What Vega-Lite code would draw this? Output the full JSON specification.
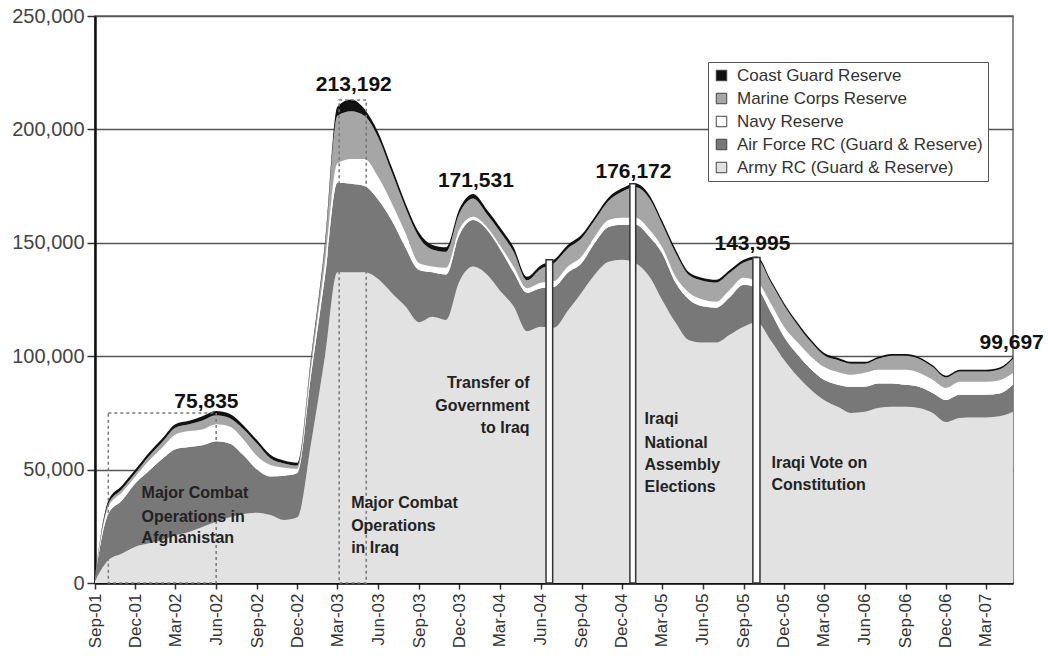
{
  "$schema": "https://vega.github.io/schema/vega-lite/v6.json",
  "width": 918,
  "height": 567,
  "autosize": {"type": "none"},
  "padding": {"left": 95, "top": 16, "right": 35, "bottom": 73},
  "background": "#ffffff",
  "config": {
    "font": "Liberation Sans",
    "view": {"stroke": "#666666", "strokeWidth": 1.5}
  },
  "datasets": {
    "main": [
      {"d": "2001-09-01", "army": 1000, "af": 1500, "navy": 300, "usmc": 100, "cg": 300},
      {"d": "2001-10-01", "army": 10000, "af": 20500, "navy": 3000, "usmc": 1300, "cg": 1500},
      {"d": "2001-11-01", "army": 13000, "af": 23500, "navy": 3500, "usmc": 1500, "cg": 1500},
      {"d": "2001-12-01", "army": 16000, "af": 28000, "navy": 3000, "usmc": 1500, "cg": 1500},
      {"d": "2002-01-01", "army": 17500, "af": 32000, "navy": 4500, "usmc": 2000, "cg": 1500},
      {"d": "2002-02-01", "army": 19000, "af": 36000, "navy": 5000, "usmc": 2500, "cg": 1500},
      {"d": "2002-03-01", "army": 21000, "af": 38000, "navy": 6500, "usmc": 3000, "cg": 1500},
      {"d": "2002-04-01", "army": 22500, "af": 37500, "navy": 7000, "usmc": 3000, "cg": 1500},
      {"d": "2002-05-01", "army": 24700, "af": 36000, "navy": 7000, "usmc": 4000, "cg": 1800},
      {"d": "2002-06-01", "army": 27000, "af": 35500, "navy": 7500, "usmc": 4000, "cg": 1835},
      {"d": "2002-07-01", "army": 29000, "af": 32500, "navy": 7500, "usmc": 3800, "cg": 1800},
      {"d": "2002-08-01", "army": 30400, "af": 26000, "navy": 7000, "usmc": 4500, "cg": 1700},
      {"d": "2002-09-01", "army": 31000, "af": 19000, "navy": 6000, "usmc": 5500, "cg": 1500},
      {"d": "2002-10-01", "army": 30000, "af": 17000, "navy": 5000, "usmc": 3000, "cg": 1500},
      {"d": "2002-11-01", "army": 27800, "af": 19500, "navy": 3500, "usmc": 1900, "cg": 1300},
      {"d": "2002-12-01", "army": 29000, "af": 19500, "navy": 1800, "usmc": 1500, "cg": 1200},
      {"d": "2003-01-01", "army": 62000, "af": 30000, "navy": 3500, "usmc": 3000, "cg": 1500},
      {"d": "2003-02-01", "army": 100000, "af": 35000, "navy": 6000, "usmc": 7000, "cg": 2000},
      {"d": "2003-03-01", "army": 137000, "af": 39500, "navy": 8500, "usmc": 21000, "cg": 4000},
      {"d": "2003-04-01", "army": 137000, "af": 39000, "navy": 11000, "usmc": 21000, "cg": 5192},
      {"d": "2003-05-01", "army": 137000, "af": 38000, "navy": 12000, "usmc": 19000, "cg": 3000},
      {"d": "2003-06-01", "army": 134000, "af": 35000, "navy": 10000, "usmc": 17400, "cg": 2200},
      {"d": "2003-07-01", "army": 128000, "af": 32000, "navy": 7700, "usmc": 13700, "cg": 2200},
      {"d": "2003-08-01", "army": 122000, "af": 26000, "navy": 6500, "usmc": 11200, "cg": 2000},
      {"d": "2003-09-01", "army": 115000, "af": 23000, "navy": 3000, "usmc": 11500, "cg": 2000},
      {"d": "2003-10-01", "army": 117400, "af": 19600, "navy": 2600, "usmc": 7400, "cg": 2000},
      {"d": "2003-11-01", "army": 116000, "af": 20000, "navy": 3000, "usmc": 7000, "cg": 2000},
      {"d": "2003-12-01", "army": 133000, "af": 20500, "navy": 2500, "usmc": 7000, "cg": 2000},
      {"d": "2004-01-01", "army": 139500, "af": 20500, "navy": 1500, "usmc": 8031, "cg": 2000},
      {"d": "2004-02-01", "army": 136000, "af": 19800, "navy": 1200, "usmc": 5600, "cg": 2000},
      {"d": "2004-03-01", "army": 129000, "af": 18400, "navy": 1600, "usmc": 6000, "cg": 2000},
      {"d": "2004-04-01", "army": 122000, "af": 15000, "navy": 2500, "usmc": 6500, "cg": 2000},
      {"d": "2004-05-01", "army": 111000, "af": 17000, "navy": 2000, "usmc": 3500, "cg": 1500},
      {"d": "2004-06-01", "army": 113000, "af": 17000, "navy": 2400, "usmc": 6100, "cg": 1500},
      {"d": "2004-07-01", "army": 112500, "af": 18000, "navy": 2500, "usmc": 8000, "cg": 1500},
      {"d": "2004-08-01", "army": 120000, "af": 16800, "navy": 2700, "usmc": 8000, "cg": 1500},
      {"d": "2004-09-01", "army": 128000, "af": 13000, "navy": 3000, "usmc": 8000, "cg": 1500},
      {"d": "2004-10-01", "army": 136000, "af": 14000, "navy": 2700, "usmc": 7300, "cg": 1500},
      {"d": "2004-11-01", "army": 141600, "af": 15400, "navy": 3000, "usmc": 8500, "cg": 1500},
      {"d": "2004-12-01", "army": 142500, "af": 15500, "navy": 3000, "usmc": 11500, "cg": 1500},
      {"d": "2005-01-01", "army": 141000, "af": 17000, "navy": 3000, "usmc": 13472, "cg": 1700},
      {"d": "2005-02-01", "army": 135000, "af": 17700, "navy": 3000, "usmc": 13800, "cg": 1500},
      {"d": "2005-03-01", "army": 125000, "af": 20600, "navy": 2700, "usmc": 10200, "cg": 1500},
      {"d": "2005-04-01", "army": 114700, "af": 17700, "navy": 2600, "usmc": 10500, "cg": 1500},
      {"d": "2005-05-01", "army": 107000, "af": 18000, "navy": 3000, "usmc": 7800, "cg": 1200},
      {"d": "2005-06-01", "army": 106000, "af": 16000, "navy": 3000, "usmc": 8300, "cg": 1200},
      {"d": "2005-07-01", "army": 106000, "af": 15400, "navy": 2600, "usmc": 8500, "cg": 1200},
      {"d": "2005-08-01", "army": 109500, "af": 16500, "navy": 3300, "usmc": 7500, "cg": 1200},
      {"d": "2005-09-01", "army": 113000, "af": 18500, "navy": 3100, "usmc": 6700, "cg": 1200},
      {"d": "2005-10-01", "army": 115000, "af": 15000, "navy": 2800, "usmc": 9995, "cg": 1200},
      {"d": "2005-11-01", "army": 107000, "af": 12600, "navy": 3900, "usmc": 9200, "cg": 1000},
      {"d": "2005-12-01", "army": 98400, "af": 10200, "navy": 4400, "usmc": 9500, "cg": 1000},
      {"d": "2006-01-01", "army": 91000, "af": 9600, "navy": 5400, "usmc": 7700, "cg": 1000},
      {"d": "2006-02-01", "army": 85000, "af": 9000, "navy": 5700, "usmc": 6300, "cg": 1000},
      {"d": "2006-03-01", "army": 80700, "af": 8900, "navy": 5700, "usmc": 5200, "cg": 1000},
      {"d": "2006-04-01", "army": 77700, "af": 9700, "navy": 5600, "usmc": 5300, "cg": 1000},
      {"d": "2006-05-01", "army": 75000, "af": 11500, "navy": 5300, "usmc": 4900, "cg": 800},
      {"d": "2006-06-01", "army": 75500, "af": 11000, "navy": 6200, "usmc": 4000, "cg": 800},
      {"d": "2006-07-01", "army": 77200, "af": 10800, "navy": 6000, "usmc": 4900, "cg": 800},
      {"d": "2006-08-01", "army": 77700, "af": 10300, "navy": 6000, "usmc": 6200, "cg": 800},
      {"d": "2006-09-01", "army": 77700, "af": 9700, "navy": 6600, "usmc": 6200, "cg": 800},
      {"d": "2006-10-01", "army": 77200, "af": 9300, "navy": 6200, "usmc": 6200, "cg": 800},
      {"d": "2006-11-01", "army": 75000, "af": 8800, "navy": 5800, "usmc": 5600, "cg": 800},
      {"d": "2006-12-01", "army": 71000, "af": 9700, "navy": 5300, "usmc": 4600, "cg": 800},
      {"d": "2007-01-01", "army": 72800, "af": 10200, "navy": 5700, "usmc": 4500, "cg": 800},
      {"d": "2007-02-01", "army": 73000, "af": 10000, "navy": 5700, "usmc": 4500, "cg": 800},
      {"d": "2007-03-01", "army": 73000, "af": 10000, "navy": 5700, "usmc": 4500, "cg": 800},
      {"d": "2007-04-01", "army": 73500, "af": 10100, "navy": 5800, "usmc": 4800, "cg": 800},
      {"d": "2007-05-01", "army": 75500, "af": 11900, "navy": 5300, "usmc": 6197, "cg": 800}
    ],
    "series": [
      {"key": "army", "label": "Army RC (Guard & Reserve)", "rank": 1},
      {"key": "af", "label": "Air Force RC (Guard & Reserve)", "rank": 2},
      {"key": "navy", "label": "Navy Reserve", "rank": 3},
      {"key": "usmc", "label": "Marine Corps Reserve", "rank": 4},
      {"key": "cg", "label": "Coast Guard Reserve", "rank": 5}
    ],
    "boxes": [
      {"x1": "2001-10-01", "x2": "2002-06-01", "bottom": 0, "top": 75000},
      {"x1": "2003-03-05", "x2": "2003-05-05", "bottom": 0, "top": 213000}
    ],
    "bars": [
      {"x1": "2004-06-13", "x2": "2004-06-28", "bottom": 0, "top": 142500},
      {"x1": "2004-12-19", "x2": "2005-01-01", "bottom": 0, "top": 176000},
      {"x1": "2005-09-22", "x2": "2005-10-08", "bottom": 0, "top": 143500}
    ],
    "peaks": [
      {"d": "2002-05-10", "v": 77200, "t": "75,835"},
      {"d": "2003-04-07", "v": 217000, "t": "213,192"},
      {"d": "2004-01-07", "v": 174800, "t": "171,531"},
      {"d": "2004-12-27", "v": 178700, "t": "176,172"},
      {"d": "2005-09-21", "v": 147000, "t": "143,995"},
      {"d": "2007-04-28", "v": 103300, "t": "99,697"}
    ],
    "notesLeft": [
      {"d": "2001-12-15", "v": 39700, "t": "Major Combat"},
      {"d": "2001-12-15", "v": 29100, "t": "Operations in"},
      {"d": "2001-12-15", "v": 19900, "t": "Afghanistan"},
      {"d": "2003-04-01", "v": 35300, "t": "Major Combat"},
      {"d": "2003-04-01", "v": 25200, "t": "Operations"},
      {"d": "2003-04-01", "v": 15400, "t": "in Iraq"},
      {"d": "2005-01-21", "v": 72400, "t": "Iraqi"},
      {"d": "2005-01-21", "v": 61800, "t": "National"},
      {"d": "2005-01-21", "v": 52100, "t": "Assembly"},
      {"d": "2005-01-21", "v": 42400, "t": "Elections"},
      {"d": "2005-11-03", "v": 53000, "t": "Iraqi Vote on"},
      {"d": "2005-11-03", "v": 43200, "t": "Constitution"}
    ],
    "notesRight": [
      {"d": "2004-05-07", "v": 88300, "t": "Transfer of"},
      {"d": "2004-05-07", "v": 78100, "t": "Government"},
      {"d": "2004-05-07", "v": 68400, "t": "to Iraq"}
    ]
  },
  "layer": [
    {
      "data": {"name": "main"},
      "transform": [
        {"fold": ["army", "af", "navy", "usmc", "cg"], "as": ["key", "count"]},
        {"lookup": "key", "from": {"data": {"name": "series"}, "key": "key", "fields": ["label", "rank"]}}
      ],
      "mark": {"type": "area", "interpolate": "monotone"},
      "encoding": {
        "x": {
          "field": "d", "type": "temporal",
          "scale": {"type": "utc", "domain": [{"year": 2001, "month": 9, "date": 1, "utc": true}, {"year": 2007, "month": 5, "date": 1, "utc": true}]},
          "axis": {
            "title": null, "format": "%b-%y", "labelAngle": -90, "labelFontSize": 17, "labelColor": "#333333",
            "tickSize": 6, "tickColor": "#333333", "tickWidth": 1.5, "labelPadding": 4, "domainColor": "#111111", "domainWidth": 2.5, "grid": false,
            "labelOverlap": false,
            "values": [
              {"year": 2001, "month": 9, "date": 1, "utc": true}, {"year": 2001, "month": 12, "date": 1, "utc": true},
              {"year": 2002, "month": 3, "date": 1, "utc": true}, {"year": 2002, "month": 6, "date": 1, "utc": true},
              {"year": 2002, "month": 9, "date": 1, "utc": true}, {"year": 2002, "month": 12, "date": 1, "utc": true},
              {"year": 2003, "month": 3, "date": 1, "utc": true}, {"year": 2003, "month": 6, "date": 1, "utc": true},
              {"year": 2003, "month": 9, "date": 1, "utc": true}, {"year": 2003, "month": 12, "date": 1, "utc": true},
              {"year": 2004, "month": 3, "date": 1, "utc": true}, {"year": 2004, "month": 6, "date": 1, "utc": true},
              {"year": 2004, "month": 9, "date": 1, "utc": true}, {"year": 2004, "month": 12, "date": 1, "utc": true},
              {"year": 2005, "month": 3, "date": 1, "utc": true}, {"year": 2005, "month": 6, "date": 1, "utc": true},
              {"year": 2005, "month": 9, "date": 1, "utc": true}, {"year": 2005, "month": 12, "date": 1, "utc": true},
              {"year": 2006, "month": 3, "date": 1, "utc": true}, {"year": 2006, "month": 6, "date": 1, "utc": true},
              {"year": 2006, "month": 9, "date": 1, "utc": true}, {"year": 2006, "month": 12, "date": 1, "utc": true},
              {"year": 2007, "month": 3, "date": 1, "utc": true}
            ]
          }
        },
        "y": {
          "field": "count", "type": "quantitative", "stack": "zero",
          "scale": {"domain": [0, 250000], "nice": false},
          "axis": {
            "title": null, "values": [0, 50000, 100000, 150000, 200000, 250000], "format": ",.0f",
            "labelFontSize": 20, "labelColor": "#444444", "tickSize": 8, "tickColor": "#333333", "tickWidth": 1.5,
            "labelPadding": 3, "domainColor": "#111111", "domainWidth": 2.5,
            "grid": true, "gridColor": "#555555", "gridWidth": 1.5
          }
        },
        "color": {
          "field": "label", "type": "nominal",
          "scale": {
            "domain": ["Coast Guard Reserve", "Marine Corps Reserve", "Navy Reserve", "Air Force RC (Guard & Reserve)", "Army RC (Guard & Reserve)"],
            "range": ["#111111", "#a6a6a6", "#ffffff", "#787878", "#e2e2e2"]
          },
          "legend": {
            "orient": "none", "legendX": 613, "legendY": 46, "title": null,
            "symbolType": "square", "symbolSize": 110, "symbolStrokeColor": "#444444", "symbolStrokeWidth": 1, "symbolOpacity": 1,
            "labelFontSize": 17, "labelColor": "#333333", "labelLimit": 400, "labelOffset": 7,
            "strokeColor": "#555555", "fillColor": "#ffffff", "padding": 5, "rowPadding": 5
          }
        },
        "order": {"field": "rank", "type": "quantitative", "sort": "ascending"}
      }
    },
    {
      "data": {"name": "boxes"},
      "mark": {"type": "rect", "fill": "transparent", "stroke": "#777777", "strokeWidth": 1.5, "strokeDash": [3, 3]},
      "encoding": {
        "x": {"field": "x1", "type": "temporal"},
        "x2": {"field": "x2"},
        "y": {"field": "top", "type": "quantitative"},
        "y2": {"field": "bottom"}
      }
    },
    {
      "data": {"name": "bars"},
      "mark": {"type": "rect", "fill": "#ffffff", "stroke": "#333333", "strokeWidth": 1.5},
      "encoding": {
        "x": {"field": "x1", "type": "temporal"},
        "x2": {"field": "x2"},
        "y": {"field": "top", "type": "quantitative"},
        "y2": {"field": "bottom"}
      }
    },
    {
      "data": {"name": "peaks"},
      "mark": {"type": "text", "font": "Liberation Sans", "fontWeight": "bold", "fontSize": 21, "align": "center", "baseline": "alphabetic", "color": "#111111"},
      "encoding": {
        "x": {"field": "d", "type": "temporal"},
        "y": {"field": "v", "type": "quantitative"},
        "text": {"field": "t"}
      }
    },
    {
      "data": {"name": "notesLeft"},
      "mark": {"type": "text", "fontWeight": "bold", "fontSize": 16, "align": "left", "baseline": "middle", "color": "#222222"},
      "encoding": {
        "x": {"field": "d", "type": "temporal"},
        "y": {"field": "v", "type": "quantitative"},
        "text": {"field": "t"}
      }
    },
    {
      "data": {"name": "notesRight"},
      "mark": {"type": "text", "fontWeight": "bold", "fontSize": 16, "align": "right", "baseline": "middle", "color": "#222222"},
      "encoding": {
        "x": {"field": "d", "type": "temporal"},
        "y": {"field": "v", "type": "quantitative"},
        "text": {"field": "t"}
      }
    }
  ]
}
